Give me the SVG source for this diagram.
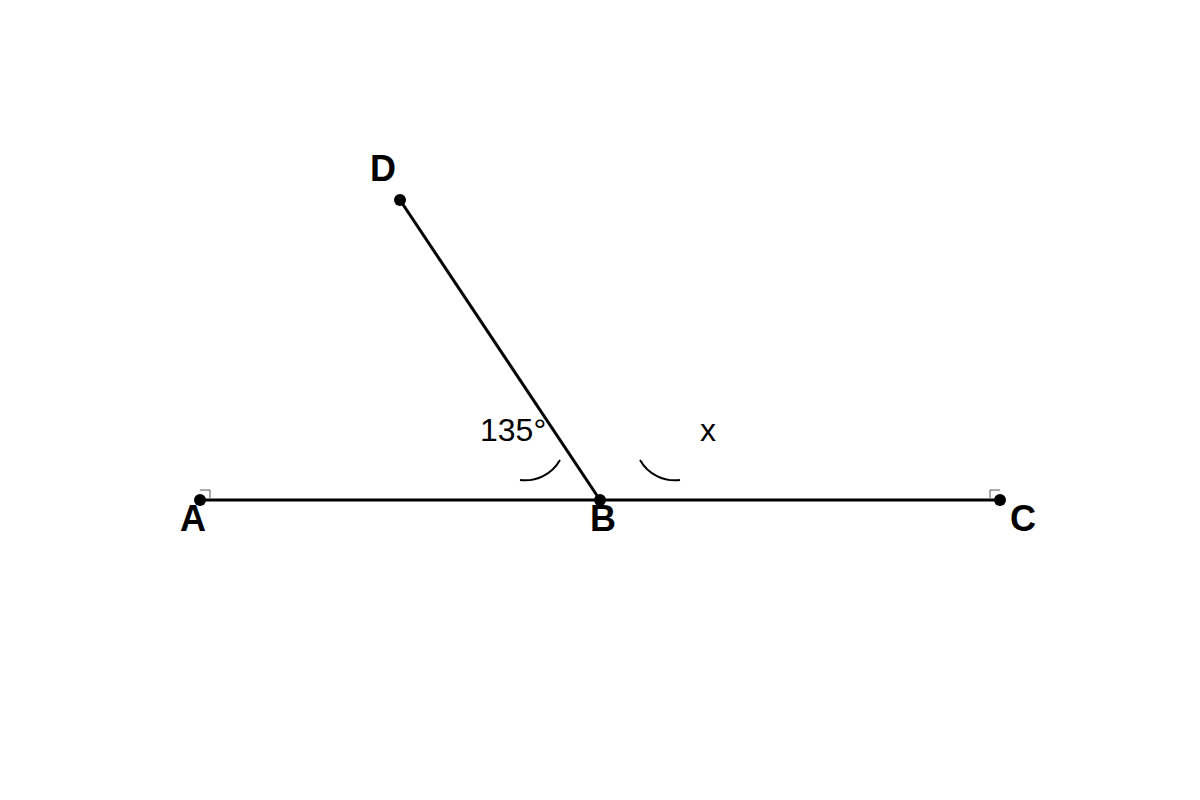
<svg xmlns="http://www.w3.org/2000/svg" width="1200" height="800" viewBox="0 0 1200 800">
<style>
.ln{stroke:#000;stroke-width:3;fill:none}
.arc{stroke:#000;stroke-width:2;fill:none}
.rt{stroke:#555;stroke-width:1;fill:none}
.pt{fill:#000}
.lbl{font-family:"Liberation Sans",Arial,sans-serif;font-size:36px;font-weight:bold;fill:#000;text-anchor:middle}
.ang{font-family:"Liberation Sans",Arial,sans-serif;font-size:32px;fill:#000}
</style>
<rect width="1200" height="800" fill="#fff"/>
<g id="connectors">
<line class="ln" x1="200" y1="500" x2="1000" y2="500"/>
<line class="ln" x1="400" y1="200" x2="600" y2="500"/>
<path class="arc" d="M520,480 A40,40 0 0 0 560,460"/>
<path class="arc" d="M640,460 A40,40 0 0 0 680,480"/>
<path class="rt" d="M200,490 H210 V498"/>
<path class="rt" d="M1000,490 H990 V498"/>
</g>
<g id="A"><circle class="pt" cx="200" cy="500" r="6"/><text class="lbl" x="193" y="531">A</text></g>
<g id="B"><circle class="pt" cx="600" cy="500" r="6"/><text class="lbl" x="603" y="531">B</text></g>
<g id="C"><circle class="pt" cx="1000" cy="500" r="6"/><text class="lbl" x="1023" y="531">C</text></g>
<g id="D"><circle class="pt" cx="400" cy="200" r="6"/><text class="lbl" x="383" y="181">D</text></g>
<g id="angles">
<text class="ang" x="480" y="441">135°</text>
<text class="ang" x="700" y="441">x</text>
</g>
</svg>
